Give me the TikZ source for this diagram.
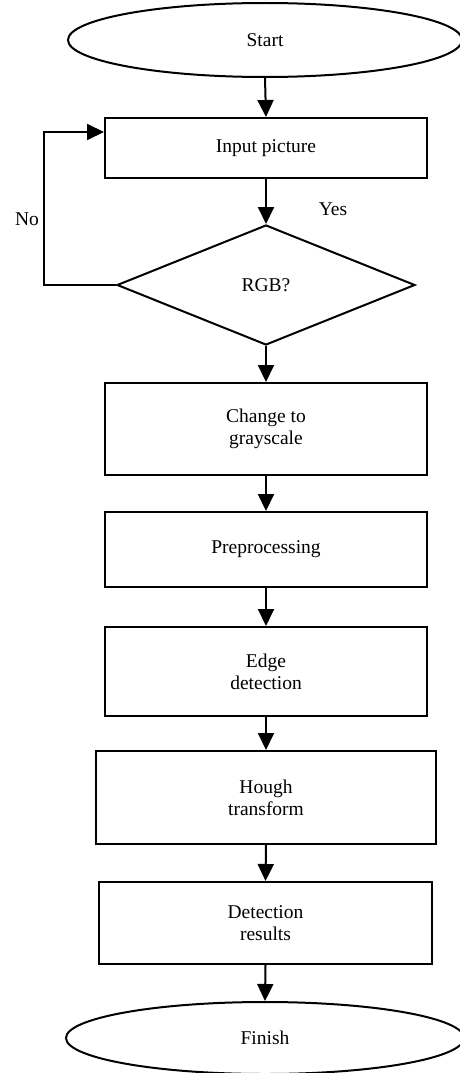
\documentclass[tikz,border=0pt]{standalone}
\usepackage{fontspec}
\setmainfont{Liberation Serif}
\usetikzlibrary{shapes.geometric,arrows.meta}
\begin{document}
\begin{tikzpicture}[>={Triangle[width=16pt,length=17pt]},x=1pt,y=-1pt,line width=2pt,
	font=\fontsize{19.5}{22}\selectfont,
	box/.style={draw,rectangle,inner sep=0pt,align=center},
	term/.style={draw,ellipse,inner sep=0pt},
	decision/.style={draw,diamond,inner sep=0pt,minimum width=298pt,minimum height=120pt}]
		\def\bw{322} % box width
		\useasboundingbox (0,0) rectangle (459,1073);
		\node[term,minimum width=394pt,minimum height=74pt] (start) at (265,40) {Start};
		\node[box,minimum width=\bw pt,minimum height=60pt] (inp) at (266,148) {Input picture};
		\node[decision] (rgb) at (266,285) {RGB?};
		\node[box,minimum width=\bw pt,minimum height=92pt] (gray) at (266,429) {Change to\\grayscale};
		\node[box,minimum width=\bw pt,minimum height=75pt] (pre) at (266,549.5) {Preprocessing};
		\node[box,minimum width=\bw pt,minimum height=89pt] (edge) at (266,671.5) {Edge\\detection};
		\node[box,minimum width=340pt,minimum height=93pt] (hough) at (266,797.5) {Hough\\transform};
		\node[box,minimum width=333pt,minimum height=82pt] (res) at (265.5,923) {Detection\\results};
		\node[term,minimum width=398pt,minimum height=72pt] (fin) at (265,1038) {Finish};
		\node (yes) at (333,209) {Yes};
		\node (no) at (27,219) {No};
		\coordinate (loop) at (44,132);
		\draw[->] (start.south) -- (inp.north);
		\draw[->] (inp.south) -- (rgb.north);
		\draw[->] (rgb.south) -- (gray.north);
		\draw[->] (gray.south) -- (pre.north);
		\draw[->] (pre.south) -- (edge.north);
		\draw[->] (edge.south) -- (hough.north);
		\draw[->] (hough.south) -- (res.north);
		\draw[->] (res.south) -- (fin.north);
		\draw[->] (rgb.west) -| (loop) -- (loop -| inp.west);
		\end{tikzpicture}
\end{document}
